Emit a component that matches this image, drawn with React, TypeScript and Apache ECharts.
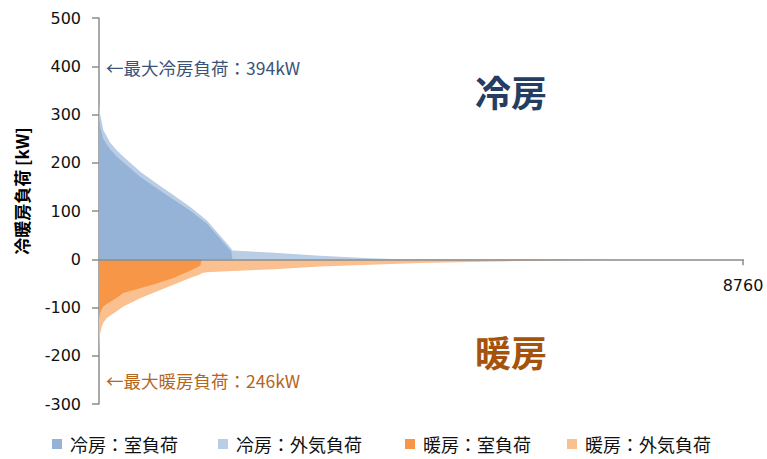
import React, { useEffect, useRef } from "react";
import * as echarts from "echarts";

// Hours (sorted duration) and loads [kW]
const coolHours = [0, 15, 37, 58, 105, 150, 241, 330, 558, 785, 1011, 1238, 1465, 1601, 1737, 1800, 1815, 2326, 3006, 3686, 4100, 8760];
const coolRoom = [305, 275, 262, 250, 238, 228, 213, 201, 171, 147, 124, 101, 74, 51, 27, 16, 0, 0, 0, 0, 0, 0];
const coolOA = [20, 25, 23, 18, 17, 14, 13, 12, 11, 10, 9, 8, 7, 6, 6, 6, 18, 14, 7, 2, 0, 0];

const heatHours = [0, 15, 37, 58, 105, 241, 330, 558, 785, 1011, 1238, 1380, 1395, 1465, 1737, 2326, 3006, 4366, 5726, 6991, 8760];
const heatRoom = [-125, -112, -104, -98, -93, -80, -70, -60, -50, -39, -24, -13, 0, 0, 0, 0, 0, 0, 0, 0, 0];
const heatOA = [-70, -43, -36, -34, -29, -28, -28, -21, -17, -14, -15, -18, -29, -27, -25, -21, -15, -8, -3.5, -0.5, 0];

const seriesNames = ["冷房：室負荷", "冷房：外気負荷", "暖房：室負荷", "暖房：外気負荷"];
const seriesColors = ["#95B3D7", "#B9CDE5", "#F79646", "#FAC090"];
const yTicks = { min: -300, max: 500, interval: 100 };
const xMax = 8760;

const CJK = '"Noto Sans CJK JP", sans-serif';
const NUM = '"DejaVu Sans", sans-serif';

export default function App() {
  const ref = useRef<HTMLDivElement>(null);
  useEffect(() => {
    if (!ref.current) return;
    const chart = echarts.init(ref.current, undefined, { renderer: "svg" });
    // room load drawn over the total (room + outside air) -> stacked look
    const coolTotal = coolRoom.map((v, k) => v + coolOA[k]);
    const heatTotal = heatRoom.map((v, k) => v + heatOA[k]);
    const mk = (i: number, hours: number[], vals: number[], z: number) => ({
      name: seriesNames[i],
      type: "line",
      data: hours.map((h, k) => [h, vals[k]]),
      symbol: "none",
      showSymbol: false,
      lineStyle: { width: 0, opacity: 0 },
      color: seriesColors[i],
      areaStyle: { color: seriesColors[i], opacity: 1, origin: 0 },
      z,
    });
    const gridTop = 18;
    const gridBottom = 55;
    const plotH = 459 - gridTop - gridBottom;
    const zeroOffset = -plotH * (0 - yTicks.min) / (yTicks.max - yTicks.min);
    const legendLefts = [52, 218, 405, 567];
    chart.setOption({
      animation: false,
      grid: { left: 99, right: 24, top: gridTop, bottom: gridBottom },
      xAxis: {
        type: "value",
        min: 0,
        max: xMax,
        interval: xMax,
        z: 5,
        position: "bottom",
        offset: zeroOffset,
        axisLine: { onZero: false, lineStyle: { color: "#8c8c8c", width: 1.5 } },
        axisTick: { show: true, length: 6, lineStyle: { color: "#8c8c8c", width: 1.5 } },
        axisLabel: {
          showMinLabel: false,
          margin: 18,
          fontFamily: NUM,
          fontSize: 16,
          color: "#111",
          formatter: (v: number) => (v === 0 ? "" : String(v)),
        },
        splitLine: { show: false },
      },
      yAxis: {
        type: "value",
        min: yTicks.min,
        max: yTicks.max,
        interval: yTicks.interval,
        axisLine: { show: true, onZero: false, lineStyle: { color: "#8c8c8c", width: 1.5 } },
        axisTick: { show: true, length: 7, lineStyle: { color: "#8c8c8c", width: 1.5 } },
        axisLabel: { margin: 18, fontFamily: NUM, fontSize: 16, color: "#111" },
        splitLine: { show: false },
      },
      legend: seriesNames.map((n, i) => ({
        data: [n],
        left: legendLefts[i],
        top: 435,
        icon: "rect",
        itemWidth: 10,
        itemHeight: 10,
        itemGap: 0,
        padding: 0,
        textStyle: { fontFamily: CJK, fontSize: 18, color: "#111", padding: [0, 0, 0, 3] },
      })),
      graphic: [
        {
          type: "text",
          z: 100,
          x: 21,
          y: 191,
          rotation: Math.PI / 2,
          style: {
            text: "冷暖房負荷 [kW]",
            fontFamily: CJK,
            fontWeight: "bold",
            fontSize: 17,
            fill: "#000",
            align: "center",
            verticalAlign: "middle",
          },
        },
        {
          type: "text",
          z: 100,
          x: 106,
          y: 67,
          style: {
            text: "←最大冷房負荷：394kW",
            fontFamily: CJK,
            fontSize: 17.5,
            fill: "#3A5378",
            verticalAlign: "middle",
          },
        },
        {
          type: "text",
          z: 100,
          x: 106,
          y: 380,
          style: {
            text: "←最大暖房負荷：246kW",
            fontFamily: CJK,
            fontSize: 17.5,
            fill: "#B5651D",
            verticalAlign: "middle",
          },
        },
        {
          type: "text",
          z: 100,
          x: 475,
          y: 91,
          style: {
            text: "冷房",
            fontFamily: CJK,
            fontWeight: "bold",
            fontSize: 36,
            fill: "#243E63",
            verticalAlign: "middle",
          },
        },
        {
          type: "text",
          z: 100,
          x: 475,
          y: 351,
          style: {
            text: "暖房",
            fontFamily: CJK,
            fontWeight: "bold",
            fontSize: 36,
            fill: "#A4520C",
            verticalAlign: "middle",
          },
        },
      ],
      series: [
        mk(1, coolHours, coolTotal, 2),
        mk(0, coolHours, coolRoom, 3),
        mk(3, heatHours, heatTotal, 2),
        mk(2, heatHours, heatRoom, 3),
      ],
    });
    return () => chart.dispose();
  }, []);
  return (
    <div
      ref={ref}
      style={{ position: "fixed", left: 0, top: 0, width: 767, height: 459, background: "#fff" }}
    />
  );
}
